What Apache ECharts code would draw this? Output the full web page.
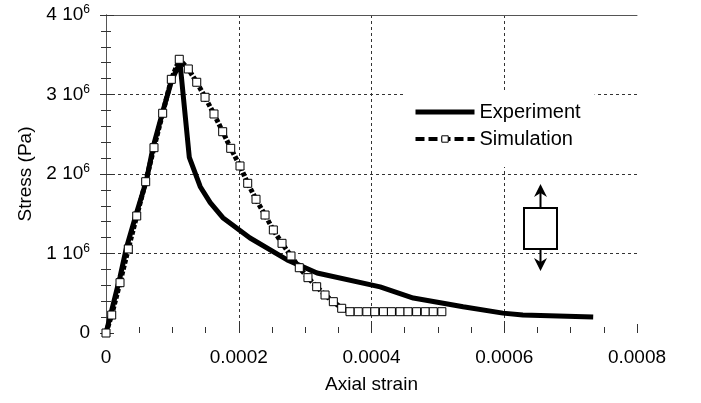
<!DOCTYPE html>
<html><head><meta charset="utf-8">
<script src="https://cdn.jsdelivr.net/npm/echarts@6/dist/echarts.min.js"></script>
<style>html,body{margin:0;padding:0;background:#fff}#c{width:701px;height:403px}</style>
</head><body><div id="c"></div>
<script>
var xTicks = [0, 0.0002, 0.0004, 0.0006, 0.0008];
var yTicks = [0, 1e6, 2e6, 3e6, 4e6];
var yTickLabels = ['0', '1 10', '2 10', '3 10', '4 10'];
var yTickExp = ['', '6', '6', '6', '6'];

var expStrain = [0, 2.1e-5, 3.1e-5, 4.6e-5, 6.1e-5, 7.1e-5, 8.6e-5, 9.9e-5, 1.115e-4, 1.255e-4, 1.42e-4, 1.57e-4, 1.76e-4, 2.17e-4, 2.73e-4, 3.18e-4, 4.13e-4, 4.63e-4, 5.38e-4, 5.98e-4, 6.28e-4, 7.34e-4];
var expStress = [0, 0.70e6, 1.08e6, 1.51e6, 1.92e6, 2.34e6, 2.80e6, 3.18e6, 3.40e6, 2.21e6, 1.84e6, 1.64e6, 1.45e6, 1.195e6, 0.92e6, 0.755e6, 0.58e6, 0.44e6, 0.33e6, 0.25e6, 0.226e6, 0.20e6];

var simStrain = [0, 8.6e-6, 2.11e-5, 3.36e-5, 4.63e-5, 5.98e-5, 7.23e-5, 8.54e-5, 9.84e-5, 1.104e-4, 1.24e-4, 1.367e-4, 1.492e-4, 1.627e-4, 1.758e-4, 1.879e-4, 2.019e-4, 2.135e-4, 2.26e-4, 2.396e-4, 2.521e-4, 2.652e-4, 2.787e-4, 2.912e-4, 3.043e-4, 3.174e-4, 3.30e-4, 3.425e-4, 3.551e-4, 3.676e-4, 3.80e-4, 3.93e-4, 4.05e-4, 4.18e-4, 4.30e-4, 4.43e-4, 4.55e-4, 4.68e-4, 4.81e-4, 4.93e-4, 5.06e-4];
var simStress = [0, 0.226e6, 0.633e6, 1.057e6, 1.472e6, 1.903e6, 2.331e6, 2.764e6, 3.191e6, 3.443e6, 3.321e6, 3.154e6, 2.965e6, 2.755e6, 2.532e6, 2.323e6, 2.101e6, 1.883e6, 1.682e6, 1.484e6, 1.296e6, 1.128e6, 0.969e6, 0.821e6, 0.696e6, 0.582e6, 0.478e6, 0.394e6, 0.311e6, 0.268e6, 0.268e6, 0.268e6, 0.268e6, 0.268e6, 0.268e6, 0.268e6, 0.268e6, 0.268e6, 0.268e6, 0.268e6, 0.268e6];

function pairs(xs, ys) { return xs.map(function (x, i) { return [x, ys[i]]; }); }

var FONT = '"Liberation Sans", Arial, sans-serif';
var gridDash = { show: true, showMinLine: false, showMaxLine: false, lineStyle: { color: '#333', width: 1, type: [3, 3] } };

var chart = echarts.init(document.getElementById('c'), null, { renderer: 'canvas' });
chart.setOption({
  animation: false,
  backgroundColor: '#fff',
  grid: { left: 106, right: 64, top: 15, bottom: 70 },
  xAxis: [{
    type: 'value', min: xTicks[0], max: xTicks[xTicks.length - 1], interval: 0.0002,
    name: 'Axial strain', nameLocation: 'middle', nameGap: 42,
    nameTextStyle: { fontFamily: FONT, fontSize: 19, color: '#000' },
    axisLine: { show: false },
    axisTick: { show: true, inside: true, length: 9, lineStyle: { color: '#333' } },
    minorTick: { show: true, splitNumber: 4, length: 6, lineStyle: { color: '#333' } },
    axisLabel: { fontFamily: FONT, fontSize: 19, color: '#000', margin: 15,
      formatter: function (v) { return v === 0 ? '0' : v.toFixed(4); } },
    splitLine: gridDash
  }, {
    type: 'value', position: 'top', min: xTicks[0], max: xTicks[xTicks.length - 1],
    axisLine: { show: true, onZero: false, lineStyle: { color: '#555', width: 1 } },
    axisTick: { show: false }, axisLabel: { show: false }, splitLine: { show: false }
  }],
  yAxis: [{
    type: 'value', min: yTicks[0], max: yTicks[yTicks.length - 1], interval: 1e6,
    name: 'Stress (Pa)', nameLocation: 'middle', nameGap: 66,
    nameTextStyle: { fontFamily: FONT, fontSize: 19, color: '#000' },
    axisLine: { show: true, lineStyle: { color: '#555', width: 1 } },
    axisTick: { show: true, inside: true, length: 8, lineStyle: { color: '#333' } },
    minorTick: { show: true, splitNumber: 5, length: 5, lineStyle: { color: '#333' } },
    axisLabel: {
      margin: 16, color: '#000',
      formatter: function (v) {
        var i = yTicks.indexOf(v);
        if (i < 0) return '';
        return yTickExp[i] ? '{a|' + yTickLabels[i] + '}{s|' + yTickExp[i] + '}' : '{a|' + yTickLabels[i] + '}';
      },
      rich: {
        a: { fontFamily: FONT, fontSize: 19, color: '#000', lineHeight: 22 },
        s: { fontFamily: FONT, fontSize: 12, color: '#000', verticalAlign: 'top', lineHeight: 10 }
      }
    },
    splitLine: gridDash
  }, {
    type: 'value', position: 'right', min: yTicks[0], max: yTicks[yTicks.length - 1], interval: 1e6,
    axisLine: { show: true, lineStyle: { color: '#555', width: 1 } },
    axisTick: { show: true, inside: true, length: 6, lineStyle: { color: '#333' } },
    minorTick: { show: true, splitNumber: 5, length: 5, lineStyle: { color: '#333' } },
    axisLabel: { show: false }, splitLine: { show: false }
  }],
  legend: {
    left: 403, top: 92, orient: 'vertical',
    backgroundColor: '#fff', padding: [10, 14, 18, 10],
    itemWidth: 59, itemHeight: 8, itemGap: 7,
    textStyle: { fontFamily: FONT, fontSize: 20, color: '#000' },
    data: [
      { name: 'Experiment', lineStyle: { width: 5, color: '#000' }, itemStyle: { opacity: 0 } },
      { name: 'Simulation', lineStyle: { width: 4, color: '#000', type: [9, 4] }, itemStyle: { color: '#fff', borderColor: '#000', borderWidth: 1 } }
    ]
  },
  series: [{
    name: 'Experiment', type: 'line', data: pairs(expStrain, expStress),
    showSymbol: false, symbol: 'none',
    lineStyle: { color: '#000', width: 5 }, itemStyle: { color: '#000' }
  }, {
    name: 'Simulation', type: 'line', data: pairs(simStrain, simStress),
    symbol: 'rect', symbolSize: 8,
    lineStyle: { color: '#000', width: 5, type: [4, 2] },
    itemStyle: { color: '#fff', borderColor: '#000', borderWidth: 1 }
  }],
  graphic: [
    { type: 'rect', shape: { x: 524, y: 208, width: 33, height: 41 }, style: { fill: '#fff', stroke: '#000', lineWidth: 2 }, z: 10 },
    { type: 'line', shape: { x1: 540.5, y1: 208, x2: 540.5, y2: 192 }, style: { stroke: '#000', lineWidth: 2 }, z: 10 },
    { type: 'polygon', shape: { points: [[540.5, 184], [547, 197], [540.5, 193], [534, 197]] }, style: { fill: '#000' }, z: 10 },
    { type: 'line', shape: { x1: 540.5, y1: 249, x2: 540.5, y2: 264 }, style: { stroke: '#000', lineWidth: 2 }, z: 10 },
    { type: 'polygon', shape: { points: [[540.5, 271], [547, 258], [540.5, 262], [534, 258]] }, style: { fill: '#000' }, z: 10 }
  ]
});
</script></body></html>
